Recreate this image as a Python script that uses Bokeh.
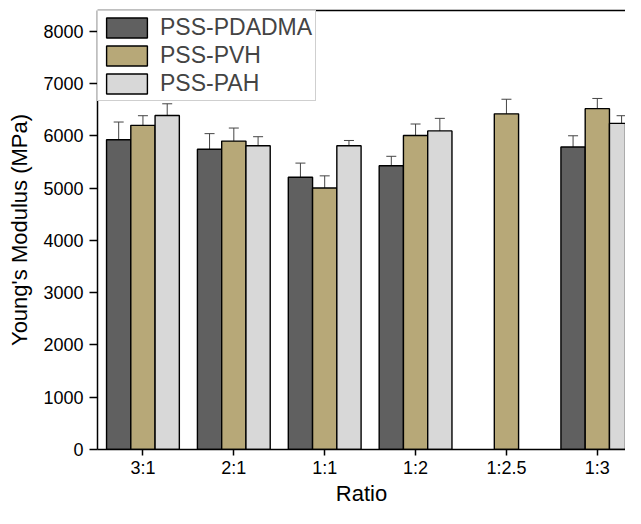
import numpy as np
from bokeh.plotting import figure
from bokeh.models import (ColumnDataSource, Range1d, FixedTicker, Whisker, TeeHead,
                          LinearAxis, Legend, LegendItem)
from bokeh.embed import file_html
from bokeh.resources import INLINE

ratios = ["3:1", "2:1", "1:1", "1:2", "1:2.5", "1:3"]
series_names = ["PSS-PDADMA", "PSS-PVH", "PSS-PAH"]
pdadma = [5926, 5744, 5210, 5430, None, 5788]
pdadma_err = [340, 300, 270, 180, None, 215]
pvh = [6202, 5901, 5003, 6008, 6422, 6522]
pvh_err = [185, 250, 233, 220, 280, 195]
pah = [6390, 5813, 5813, 6096, None, 6240]
pah_err = [225, 172, 100, 240, None, 147]
y_ticks = [0, 1000, 2000, 3000, 4000, 5000, 6000, 7000, 8000]

colors = ["#606060", "#b7a878", "#d8d8d8"]
offsets = [-0.267, 0.0, 0.267]
bar_width = 0.267
FONT = "Liberation Sans"

p = figure(width=625, height=508, output_backend="svg", toolbar_location=None,
           x_range=Range1d(0.5, 6.31), y_range=Range1d(0, 8400),
           min_border_left=97, min_border_right=0, min_border_top=10,
           min_border_bottom=0)
p.outline_line_color = None
p.grid.visible = False
p.background_fill_color = "white"

items = []
for name, vals, errs, col, off in zip(series_names, [pdadma, pvh, pah],
                                      [pdadma_err, pvh_err, pah_err], colors, offsets):
    xs, ys, up, lo = [], [], [], []
    for i, (v, e) in enumerate(zip(vals, errs)):
        if v is None:
            continue
        xs.append(i + 1 + off)
        ys.append(v)
        up.append(v + e)
        lo.append(v - e)
    src = ColumnDataSource(dict(x=xs, top=ys, upper=up, lower=lo))
    r = p.vbar(x="x", top="top", width=bar_width, bottom=0, source=src,
               fill_color=col, line_color="black", line_width=1.4)
    items.append(LegendItem(label=name, renderers=[r]))
    w = Whisker(base="x", upper="upper", lower="lower", source=src,
                dimension="height", line_color="#454545", line_width=1,
                upper_head=TeeHead(size=10, line_color="#454545", line_width=1),
                lower_head=TeeHead(size=10, line_color="#454545", line_width=1))
    p.add_layout(w)

legend = Legend(items=items, location="top_left", margin=0, padding=3, spacing=1,
                glyph_width=51, glyph_height=25, label_standoff=8,
                label_text_font=FONT, label_text_font_size="23px",
                border_line_color="#a0a0a0", border_line_width=1,
                background_fill_color="white", background_fill_alpha=1.0)
p.add_layout(legend, "center")

# x axis
xa = p.xaxis[0]
xa.ticker = FixedTicker(ticks=[1, 2, 3, 4, 5, 6])
xa.major_label_overrides = {i + 1: r for i, r in enumerate(ratios)}
xa.axis_label = "Ratio"
# y axis
ya = p.yaxis[0]
ya.ticker = FixedTicker(ticks=y_ticks)
ya.axis_label = "Young's Modulus (MPa)"

for ax in [xa, ya]:
    ax.axis_line_color = "black"
    ax.axis_line_width = 1.5
    ax.major_tick_line_color = "black"
    ax.major_tick_line_width = 1.5
    ax.major_tick_out = 8
    ax.major_tick_in = 0
    ax.minor_tick_line_color = None
    ax.major_label_text_font = FONT
    ax.major_label_text_font_size = "18px"
    ax.major_label_text_color = "black"
    ax.axis_label_text_font = FONT
    ax.axis_label_text_font_size = "22px"
    ax.axis_label_text_font_style = "normal"
    ax.axis_label_text_color = "black"
ya.major_label_standoff = 6
ya.axis_label_standoff = 8
xa.major_tick_out = 6
xa.major_label_standoff = 2
xa.axis_label_standoff = 0

# top border line
top = LinearAxis(ticker=FixedTicker(ticks=[]), major_label_text_font_size="0px",
                 major_tick_line_color=None, minor_tick_line_color=None,
                 axis_line_color="black", axis_line_width=1.5)
p.add_layout(top, "above")

open("out.html", "w").write(file_html(p, INLINE))
